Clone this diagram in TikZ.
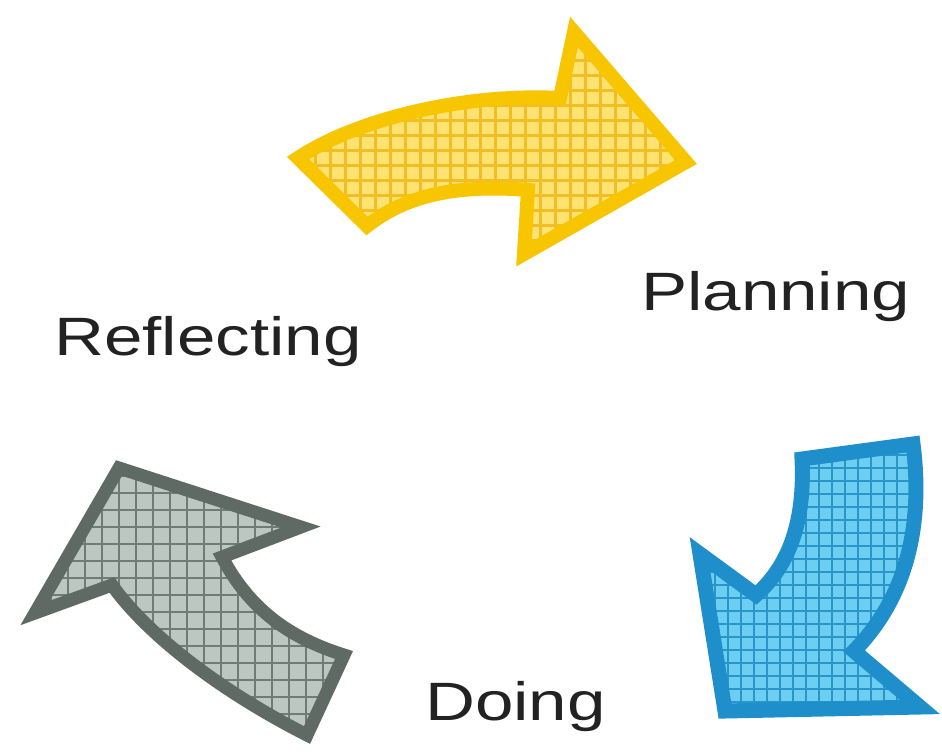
\documentclass[tikz,border=0pt]{standalone}
\usepackage{fontspec}
\setmainfont{Liberation Sans}
\definecolor{ystroke}{HTML}{F8C600}
\definecolor{yfill}{HTML}{FFE372}
\definecolor{ygrid}{HTML}{F2BE24}
\definecolor{bstroke}{HTML}{1E8FCB}
\definecolor{bfill}{HTML}{6CCFF2}
\definecolor{bgrid}{HTML}{2A95C8}
\definecolor{gstroke}{HTML}{606A65}
\definecolor{gfill}{HTML}{BCC7C1}
\definecolor{ggrid}{HTML}{707B76}
\definecolor{txt}{HTML}{222222}
\tikzset{
  label text/.style={anchor=base west, inner sep=0pt, text=txt},
  arrow stroke/.style={line width=#1, line join=miter, miter limit=20},
}
\newcommand{\labeltext}[1]{\scalebox{1.28}[1]{\fontsize{54}{60}\selectfont #1}}
\def\yellowpath{(298,158) .. controls (360,117) and (470,93) .. (560,98) -- (574,32) -- (686,162) -- (524,254) -- (528,190) .. controls (455,184) and (405,196) .. (367,226) -- cycle}
\def\bluepath{(802,459) -- (913,444) .. controls (924,530) and (904,600) .. (854,651) -- (920,707) -- (725,711) -- (700,554) -- (756,595) .. controls (790,565) and (805,520) .. (802,459) -- cycle}
\def\greypath{(119,468) -- (301,527) -- (222,557) .. controls (250,610) and (290,638) .. (344,655) -- (307,735) .. controls (205,683) and (140,625) .. (112,585) -- (35,613) -- cycle}
\begin{document}
\begin{tikzpicture}[x=1pt,y=-1pt]
\useasboundingbox (0,0) rectangle (942,753);
\fill[white] (0,0) rectangle (942,753);
% yellow arrow
\fill[yfill] \yellowpath;
\begin{scope}
\clip \yellowpath;
\draw[ygrid, line width=3pt, step=15pt] (270,0) grid (720,280);
\end{scope}
\draw[ystroke, arrow stroke=14pt] \yellowpath;
% blue arrow
\fill[bfill] \bluepath;
\begin{scope}
\clip \bluepath;
\draw[bgrid, line width=2.6pt, step=13pt] (680,420) grid (942,753);
\end{scope}
\draw[bstroke, arrow stroke=15pt] \bluepath;
% grey arrow
\fill[gfill] \greypath;
\begin{scope}
\clip \greypath;
\draw[ggrid, line width=2.8pt, step=17pt] (0,440) grid (370,753);
\end{scope}
\draw[gstroke, arrow stroke=13pt] \greypath;
% labels
\node[label text] (reflecting) at (54,355) {\labeltext{Reflecting}};
\node[label text] (planning) at (641,310) {\labeltext{Planning}};
\node[label text] (doing) at (425,720) {\labeltext{Doing}};
\end{tikzpicture}
\end{document}
